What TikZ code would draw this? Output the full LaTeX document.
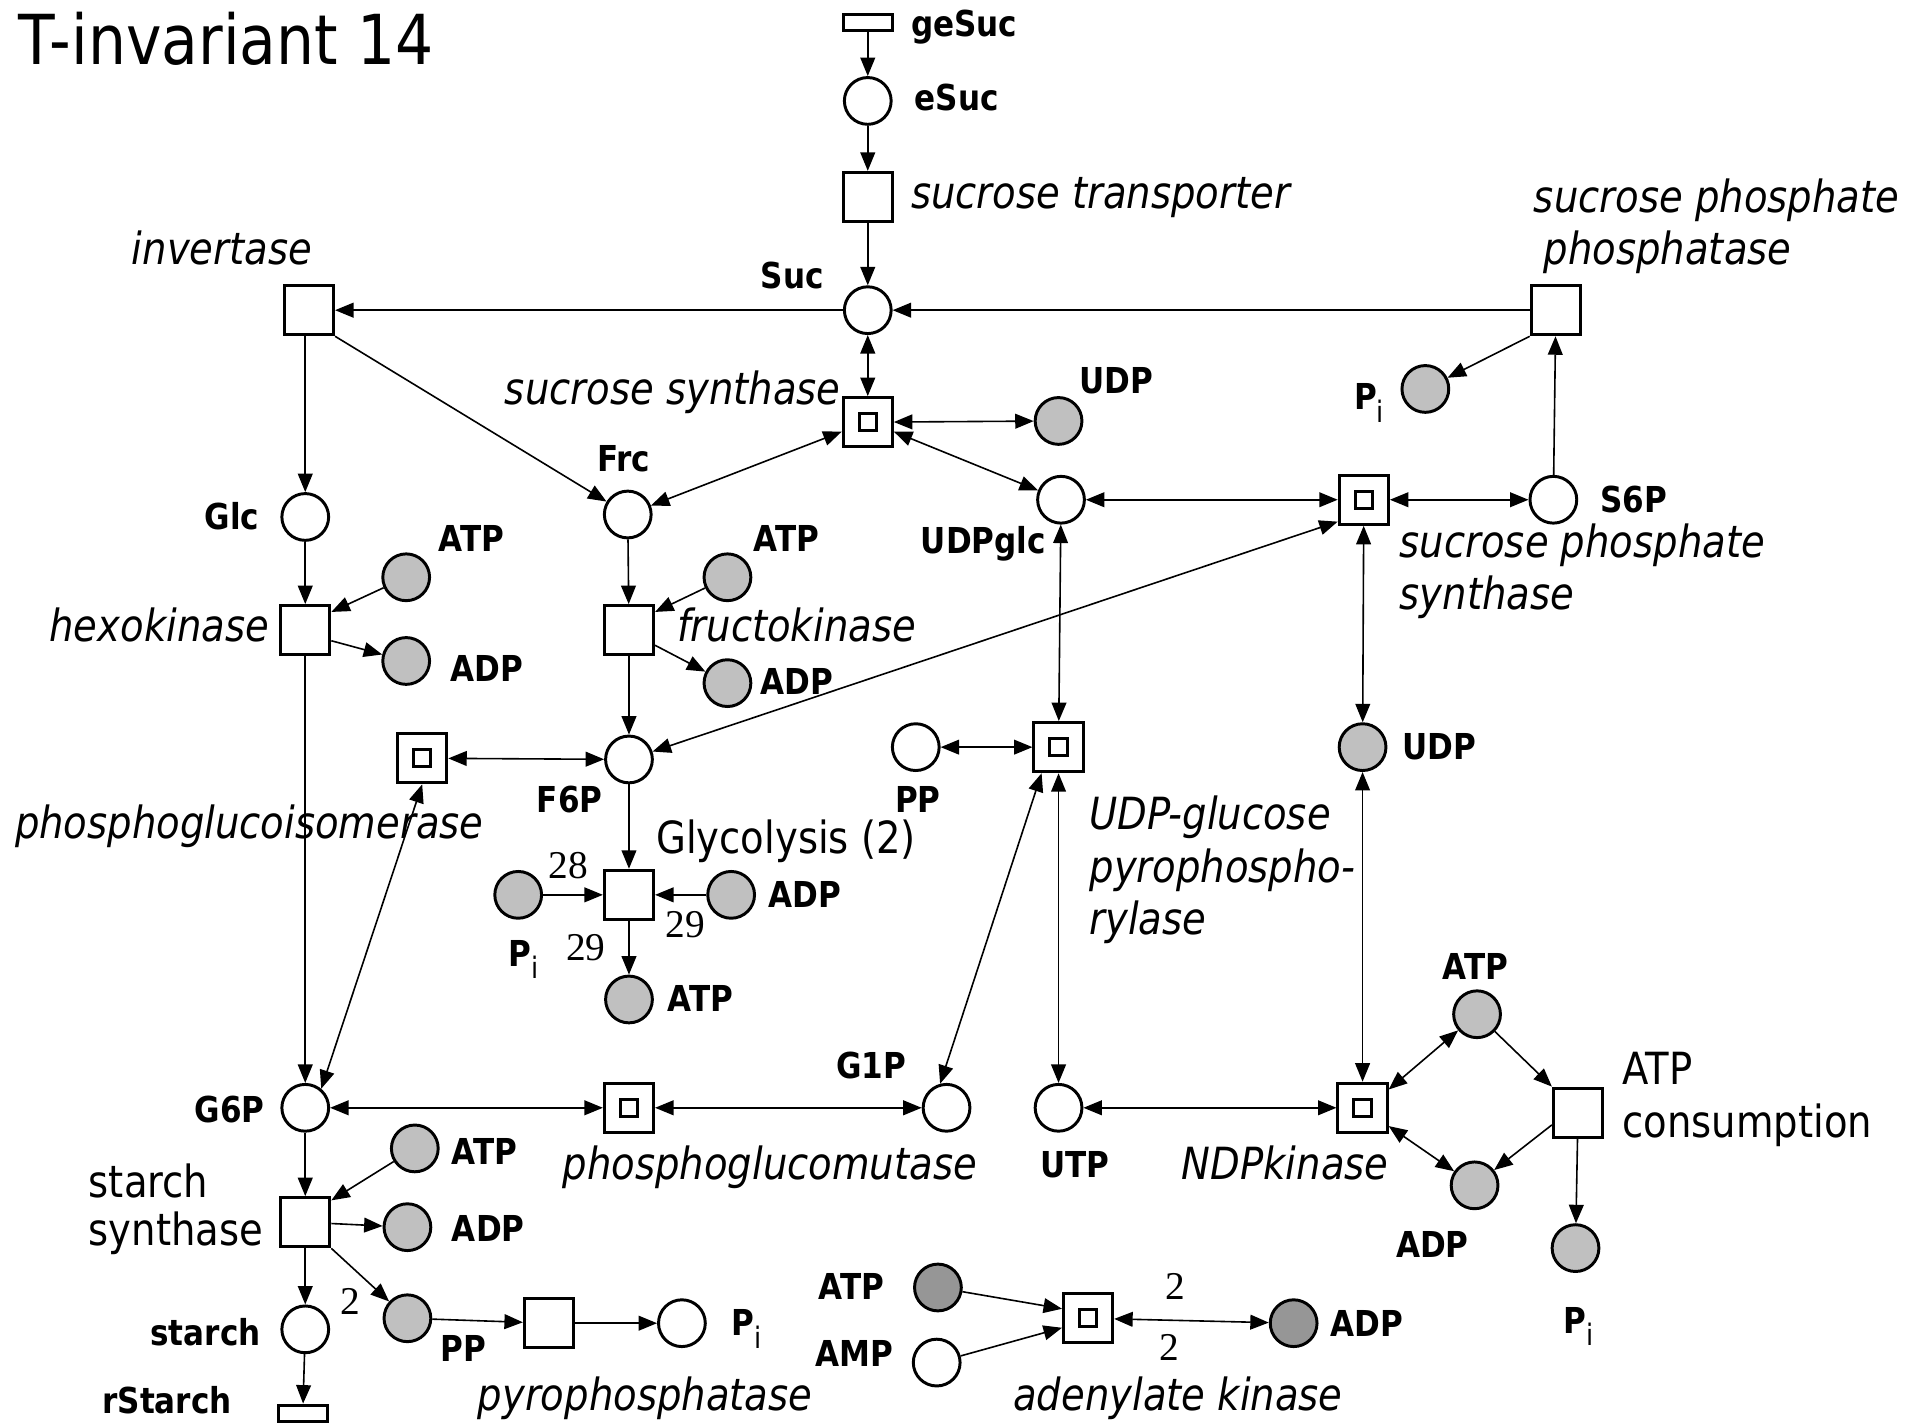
\documentclass[tikz,border=0pt]{standalone}
\usepackage{fontspec}
\setmainfont[FakeStretch=0.87]{DejaVu Sans}
\newfontfamily\numfont{Liberation Serif}
\usetikzlibrary{arrows.meta}
\definecolor{lgray}{HTML}{C0C0C0}
\definecolor{dgray}{HTML}{969696}
\newcommand\Pisub{P\raisebox{-0.35em}{\mdseries\fontsize{24}{24}\selectfont i}}
\begin{document}
\begin{tikzpicture}[x=1pt,y=-1pt,
 place/.style={circle,draw,line width=2.4pt,minimum size=38pt,inner sep=0pt,fill=white},
 gplace/.style={place,fill=lgray},
 dplace/.style={place,fill=dgray},
 trans/.style={rectangle,draw,line width=2.4pt,minimum size=40pt,inner sep=0pt,fill=white},
 dtrans/.style={trans,path picture={\draw[line width=2.4pt] ([shift={(-7pt,-7pt)}]path picture bounding box.center) rectangle ([shift={(7pt,7pt)}]path picture bounding box.center);}},
 ftrans/.style={rectangle,draw,line width=2.4pt,minimum width=40pt,minimum height=13pt,inner sep=0pt,fill=white},
 flow/.style={line width=1.3pt,-{Triangle[length=15pt,width=12pt]}},
 bflow/.style={line width=1.3pt,{Triangle[length=15pt,width=12pt]}-{Triangle[length=15pt,width=12pt]}},
 bl/.style={font=\fontsize{29}{34}\selectfont\bfseries,inner sep=0pt,anchor=base west},
 itl/.style={font=\fontsize{36}{42}\selectfont\itshape,inner sep=0pt,anchor=base west},
 rgl/.style={font=\fontsize{36}{42}\selectfont,inner sep=0pt,anchor=base west},
 numl/.style={font=\numfont\fontsize{32}{36}\selectfont,inner sep=0pt}
]
\path[use as bounding box,fill=white] (0,0) rectangle (1568,1156);

% places and transitions
\node[ftrans] (gesuc) at (705,18) {};
\node[place] (esuc) at (705,82) {};
\node[trans] (st) at (705,160) {};
\node[place] (suc) at (705,252) {};
\node[trans] (inv) at (251,252) {};
\node[trans] (spp) at (1264,252) {};
\node[gplace] (pia) at (1158,316) {};
\node[dtrans] (sucs) at (705,343) {};
\node[gplace] (udpa) at (860,342) {};
\node[place] (frc) at (510,418) {};
\node[place] (glc) at (248,420) {};
\node[place] (udpglc) at (862,406) {};
\node[dtrans] (sps) at (1108,406) {};
\node[place] (s6p) at (1262,406) {};
\node[gplace] (atpa) at (330,469) {};
\node[trans] (hk) at (248,512) {};
\node[gplace] (adpa) at (330,537) {};
\node[gplace] (atpb) at (591,469) {};
\node[trans] (fk) at (511,512) {};
\node[gplace] (adpb) at (591,555) {};
\node[dtrans] (pgi) at (343,616) {};
\node[place] (f6p) at (511,617) {};
\node[place] (ppa) at (744,607) {};
\node[dtrans] (ugp) at (860,607) {};
\node[gplace] (udpb) at (1107,607) {};
\node[trans] (gly) at (511,727) {};
\node[gplace] (pib) at (421,727) {};
\node[gplace] (adpc) at (594,727) {};
\node[gplace] (atpc) at (511,812) {};
\node[place] (g6p) at (248,900) {};
\node[dtrans] (pgm) at (511,900) {};
\node[place] (g1p) at (769,900) {};
\node[place] (utp) at (860,900) {};
\node[dtrans] (ndp) at (1107,900) {};
\node[gplace] (atpd) at (1200,824) {};
\node[gplace] (adpd) at (1198,963) {};
\node[trans] (atpcons) at (1282,904) {};
\node[gplace] (pic) at (1280,1014) {};
\node[gplace] (atpe) at (337,933) {};
\node[trans] (ssyn) at (248,993) {};
\node[gplace] (adpe) at (331,997) {};
\node[place] (starch) at (248,1080) {};
\node[gplace] (ppb) at (331,1071) {};
\node[trans] (ppase) at (446,1075) {};
\node[place] (pid) at (554,1075) {};
\node[ftrans] (rstarch) at (246,1148) {};
\node[dplace] (atpf) at (762,1046) {};
\node[place] (amp) at (761,1107) {};
\node[dtrans] (ak) at (884,1071) {};
\node[dplace] (adpf) at (1051,1075) {};

% arcs
\draw[flow] (gesuc) -- (esuc);
\draw[flow] (esuc) -- (st);
\draw[flow] (st) -- (suc);
\draw[flow] (suc) -- (inv);
\draw[flow] (spp) -- (suc);
\draw[flow] (spp.south west) -- (pia);
\draw[flow] (s6p) -- (spp);
\draw[bflow] (suc) -- (sucs);
\draw[flow] (glc |- inv.south) -- (glc);
\draw[flow] (inv.south east) -- (frc);
\draw[bflow] (sucs.200) -- (frc);
\draw[bflow] (sucs) -- (udpa);
\draw[bflow] (sucs.-20) -- (udpglc);
\draw[bflow] (udpglc) -- (sps);
\draw[bflow] (sps) -- (s6p);
\draw[bflow] (sps.220) -- (f6p);
\draw[bflow] (sps) -- (udpb);
\draw[bflow] (udpglc) -- (ugp);
\draw[flow] (glc) -- (hk);
\draw[flow] (atpa) -- (hk.35);
\draw[flow] (hk.-22) -- (adpa);
\draw[flow] (frc) -- (fk);
\draw[flow] (atpb) -- (fk.35);
\draw[flow] (fk.-30) -- (adpb);
\draw[flow] (fk) -- (f6p);
\draw[flow] (hk) -- (g6p);
\draw[bflow] (pgi) -- (f6p);
\draw[bflow] (pgi.south) -- (g6p.50);
\draw[flow] (f6p) -- (gly);
\draw[flow] (pib) -- (gly);
\draw[flow] (adpc) -- (gly);
\draw[flow] (gly) -- (atpc);
\draw[bflow] (ppa) -- (ugp);
\draw[bflow] (ugp.237) -- (g1p.105);
\draw[bflow] (ugp) -- (utp);
\draw[bflow] (udpb) -- (ndp);
\draw[bflow] (g6p) -- (pgm);
\draw[bflow] (pgm) -- (g1p);
\draw[bflow] (utp) -- (ndp);
\draw[bflow] (ndp.35) -- (atpd);
\draw[bflow] (ndp.-35) -- (adpd);
\draw[flow] (atpd) -- (atpcons.north west);
\draw[flow] (atpcons.205) -- (adpd);
\draw[flow] (atpcons) -- (pic);
\draw[flow] (g6p) -- (ssyn);
\draw[flow] (atpe) -- (ssyn.40);
\draw[flow] (ssyn) -- (adpe);
\draw[flow] (ssyn.south east) -- (ppb);
\draw[flow] (ssyn) -- (starch);
\draw[flow] (starch) -- (rstarch);
\draw[flow] (ppb) -- (ppase);
\draw[flow] (ppase) -- (pid);
\draw[flow] (atpf) -- (ak.160);
\draw[flow] (amp) -- (ak.200);
\draw[bflow] (ak) -- (adpf);

% title
\node[inner sep=0pt,anchor=base west,font=\fontsize{56}{60}\selectfont] (title) at (15,52) {T-invariant 14};

% bold place labels
\node[bl] (lgesuc) at (740,30) {geSuc};
\node[bl] (lesuc) at (743,90) {eSuc};
\node[bl] (lsuc) at (618,234) {Suc};
\node[bl] (ludpa) at (877,320) {UDP};
\node[bl] (lpia) at (1100,333) {\Pisub};
\node[bl] (lfrc) at (485,383) {Frc};
\node[bl] (lglc) at (166,430) {Glc};
\node[bl] (ludpglc) at (748,450) {UDPglc};
\node[bl] (ls6p) at (1300,416) {S6P};
\node[bl] (latpa) at (356,448) {ATP};
\node[bl] (ladpa) at (366,554) {ADP};
\node[bl] (latpb) at (612,448) {ATP};
\node[bl] (ladpb) at (618,564) {ADP};
\node[bl] (lf6p) at (436,660) {F6P};
\node[bl] (lppa) at (727,660) {PP};
\node[bl] (ludpb) at (1139,617) {UDP};
\node[bl] (ladpc) at (624,737) {ADP};
\node[bl] (lpib) at (413,785) {\Pisub};
\node[bl] (latpc) at (542,822) {ATP};
\node[bl] (lg6p) at (158,912) {G6P};
\node[bl] (lg1p) at (679,876) {G1P};
\node[bl] (lutp) at (845,957) {UTP};
\node[bl] (latpd) at (1172,796) {ATP};
\node[bl] (ladpd) at (1134,1022) {ADP};
\node[bl] (lpic) at (1270,1083) {\Pisub};
\node[bl] (latpe) at (367,946) {ATP};
\node[bl] (ladpe) at (367,1009) {ADP};
\node[bl] (lstarch) at (122,1093) {starch};
\node[bl] (lppb) at (358,1106) {PP};
\node[bl] (lpid) at (594,1085) {\Pisub};
\node[bl] (lrstarch) at (83,1148) {rStarch};
\node[bl] (latpf) at (665,1056) {ATP};
\node[bl] (lamp) at (662,1110) {AMP};
\node[bl] (ladpf) at (1081,1086) {ADP};

% enzyme labels
\node[itl] (lst) at (740,169) {sucrose transporter};
\node[itl] (linv) at (107,215) {invertase};
\node[itl] (lspp1) at (1246,173) {sucrose phosphate};
\node[itl] (lspp2) at (1254,215) {phosphatase};
\node[itl,anchor=base east] (lsucs) at (683,329) {sucrose synthase};
\node[itl] (lsps1) at (1137,453) {sucrose phosphate};
\node[itl] (lsps2) at (1137,495) {synthase};
\node[itl] (lhk) at (40,521) {hexokinase};
\node[itl] (lfk) at (550,521) {fructokinase};
\node[itl] (lpgi) at (12,681) {phosphoglucoisomerase};
\node[itl] (lugp1) at (885,674) {UDP-glucose};
\node[itl] (lugp2) at (885,717) {pyrophospho-};
\node[itl] (lugp3) at (885,759) {rylase};
\node[itl] (lpgm) at (457,958) {phosphoglucomutase};
\node[itl] (lndp) at (960,958) {NDPkinase};
\node[itl] (lppase) at (388,1146) {pyrophosphatase};
\node[itl] (lak) at (823,1146) {adenylate kinase};

% plain labels
\node[rgl] (lgly) at (533,693) {Glycolysis (2)};
\node[rgl] (lssyn1) at (72,973) {starch};
\node[rgl] (lssyn2) at (72,1012) {synthase};
\node[rgl] (lcons1) at (1318,881) {ATP};
\node[rgl] (lcons2) at (1318,924) {consumption};

% weights
\node[numl] (w28) at (462,703) {28};
\node[numl] (w29a) at (557,751) {29};
\node[numl] (w29b) at (476,770) {29};
\node[numl] (w2a) at (285,1057) {2};
\node[numl] (w2b) at (955,1045) {2};
\node[numl] (w2c) at (950,1095) {2};
\end{tikzpicture}
\end{document}
